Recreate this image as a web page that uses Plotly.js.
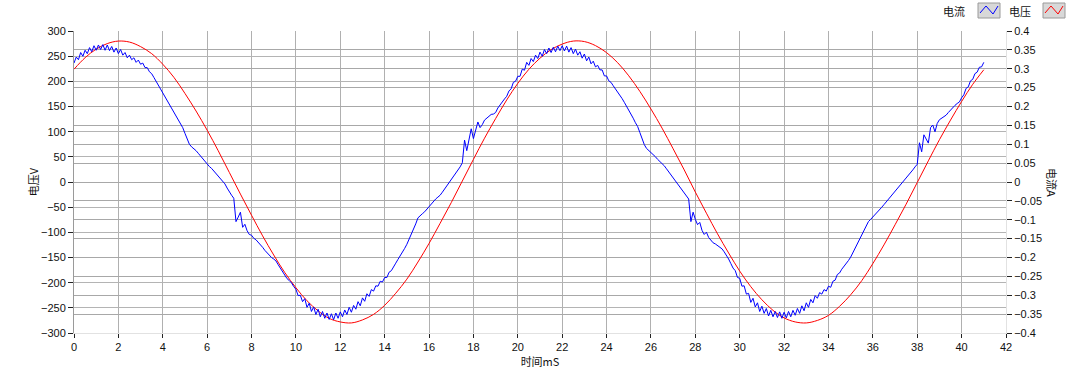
<!DOCTYPE html>
<html>
<head>
<meta charset="utf-8">
<script src="https://cdn.plot.ly/plotly-3.0.1.min.js"></script>
<style>html,body{margin:0;padding:0;background:#fff;}</style>
</head>
<body>
<div id="chart" style="width:1080px;height:371px;"></div>
<script>
// time axis (ms)
const currentStartMs = 0;
const currentStepMs = 0.1;
const voltageStartMs = 0;
const voltageStepMs = 0.5;

// 电压 (V), sampled every 0.5 ms from 0 to 41 ms
const voltageV = [
  224, 247, 264, 275, 280, 278, 269, 255, 234, 208, 176, 141, 103, 62, 19, -24,
  -66, -107, -145, -180, -210, -236, -256, -271, -278, -280, -274, -263, -245, -221,
  -193, -159, -122, -82, -41, 2, 45, 87, 126, 163, 196, 224,
  246, 263, 274, 280, 279, 271, 257, 237, 211, 180, 145, 107, 66, 24, -20,
  -62, -103, -141, -177, -208, -234, -255, -270, -278, -280, -275, -265, -247,
  -224, -196, -162, -125, -85, -44, -1, 42, 84, 123, 160, 194, 223
];

// 电流 (A), sampled every 0.1 ms from 0 to 41 ms
const currentA = [
  0.315,0.331,0.324,0.343,0.333,0.349,0.340,0.356,0.345,0.361,
  0.349,0.363,0.351,0.364,0.349,0.363,0.348,0.359,0.344,0.355,
  0.340,0.351,0.336,0.343,0.329,0.336,0.324,0.329,0.317,0.323,
  0.312,0.315,0.303,0.303,0.292,0.287,0.277,0.267,0.257,0.248,
  0.237,0.228,0.217,0.207,0.196,0.185,0.175,0.164,0.155,0.144,
  0.129,0.113,0.100,0.093,0.089,0.083,0.076,0.069,0.061,0.053,
  0.047,0.041,0.036,0.029,0.023,0.016,0.009,0.001,-0.005,-0.016,
  -0.027,-0.035,-0.043,-0.105,-0.093,-0.080,-0.120,-0.112,-0.129,-0.139,
  -0.141,-0.149,-0.153,-0.159,-0.165,-0.173,-0.181,-0.188,-0.195,-0.200,
  -0.204,-0.209,-0.219,-0.228,-0.239,-0.249,-0.256,-0.261,-0.267,-0.277,
  -0.284,-0.301,-0.300,-0.317,-0.309,-0.332,-0.321,-0.343,-0.331,-0.351,
  -0.337,-0.357,-0.343,-0.361,-0.347,-0.364,-0.349,-0.365,-0.347,-0.361,
  -0.344,-0.357,-0.339,-0.351,-0.332,-0.345,-0.327,-0.337,-0.317,-0.328,
  -0.307,-0.316,-0.296,-0.303,-0.285,-0.289,-0.275,-0.276,-0.263,-0.265,
  -0.253,-0.253,-0.239,-0.235,-0.223,-0.215,-0.205,-0.196,-0.185,-0.176,
  -0.165,-0.152,-0.140,-0.127,-0.111,-0.095,-0.088,-0.084,-0.079,-0.072,
  -0.064,-0.057,-0.052,-0.045,-0.040,-0.035,-0.027,-0.019,-0.011,-0.003,
  0.005,0.013,0.023,0.031,0.040,0.051,0.111,0.083,0.117,0.141,
  0.115,0.140,0.159,0.144,0.152,0.164,0.169,0.175,0.179,0.180,
  0.184,0.196,0.205,0.212,0.220,0.227,0.241,0.247,0.264,0.267,
  0.280,0.280,0.299,0.296,0.317,0.309,0.327,0.319,0.336,0.327,
  0.344,0.333,0.351,0.340,0.355,0.343,0.357,0.345,0.360,0.348,
  0.361,0.347,0.360,0.344,0.356,0.340,0.352,0.336,0.345,0.328,
  0.339,0.321,0.331,0.313,0.320,0.305,0.309,0.297,0.297,0.281,
  0.281,0.268,0.264,0.255,0.247,0.239,0.231,0.221,0.211,0.201,
  0.192,0.181,0.169,0.157,0.147,0.131,0.115,0.099,0.089,0.084,
  0.077,0.072,0.067,0.060,0.055,0.049,0.043,0.035,0.027,0.019,
  0.011,0.003,-0.005,-0.013,-0.020,-0.028,-0.036,-0.045,-0.105,-0.080,
  -0.099,-0.113,-0.107,-0.128,-0.139,-0.133,-0.147,-0.155,-0.161,-0.164,
  -0.168,-0.172,-0.177,-0.185,-0.193,-0.204,-0.216,-0.228,-0.235,-0.253,
  -0.255,-0.276,-0.275,-0.297,-0.295,-0.319,-0.308,-0.331,-0.320,-0.343,
  -0.329,-0.348,-0.335,-0.355,-0.340,-0.357,-0.343,-0.359,-0.344,-0.361,
  -0.345,-0.360,-0.343,-0.357,-0.340,-0.353,-0.335,-0.348,-0.328,-0.341,
  -0.320,-0.332,-0.311,-0.320,-0.301,-0.308,-0.293,-0.297,-0.285,-0.289,
  -0.276,-0.279,-0.263,-0.260,-0.245,-0.241,-0.231,-0.224,-0.216,-0.208,
  -0.199,-0.187,-0.176,-0.164,-0.152,-0.140,-0.128,-0.116,-0.105,-0.099,
  -0.093,-0.087,-0.080,-0.073,-0.067,-0.060,-0.053,-0.047,-0.040,-0.033,
  -0.027,-0.019,-0.012,-0.005,0.001,0.008,0.016,0.024,0.032,0.040,
  0.047,0.104,0.080,0.125,0.115,0.103,0.144,0.151,0.133,0.155,
  0.165,0.169,0.173,0.177,0.184,0.191,0.199,0.203,0.208,0.212,
  0.223,0.231,0.248,0.252,0.268,0.272,0.287,0.291,0.304,0.305,
  0.317
];

// labels
const seriesNames = ['电流', '电压'];
const xTitle = '时间mS';
const yTitleLeft = '电压V';
const yTitleRight = '电流A';

const cjk = '"Noto Sans CJK SC", "Liberation Sans", sans-serif';

const traces = [
  {
    type: 'scatter', mode: 'lines', name: seriesNames[1],
    x0: voltageStartMs, dx: voltageStepMs, y: voltageV,
    yaxis: 'y', line: {color: '#ff0000', width: 1, shape: 'spline'},
    hoverinfo: 'skip'
  },
  {
    type: 'scatter', mode: 'lines', name: seriesNames[0],
    x0: currentStartMs, dx: currentStepMs, y: currentA,
    yaxis: 'y2', line: {color: '#0000ff', width: 1},
    hoverinfo: 'skip'
  }
];

// pixel -> paper helpers for the hand-drawn legend
const PL = 74, PR = 1006, PT = 31, PB = 333;
const px = v => (v - PL) / (PR - PL);
const py = v => (PB - v) / (PB - PT);

function legendIcon(x, color) {
  return [
    {type: 'rect', xref: 'paper', yref: 'paper', x0: px(x), x1: px(x + 22), y0: py(18), y1: py(3),
     fillcolor: '#d8d8d8', line: {color: '#9a9a9a', width: 1}},
    {type: 'path', xref: 'paper', yref: 'paper',
     path: 'M ' + px(x + 2) + ',' + py(13) + ' L ' + px(x + 8) + ',' + py(6) + ' L ' + px(x + 15) + ',' + py(14) + ' L ' + px(x + 20) + ',' + py(6),
     line: {color: color, width: 1}}
  ];
}

const layout = {
  width: 1080, height: 371,
  margin: {l: PL, r: 1080 - PR, t: PT, b: 371 - PB},
  paper_bgcolor: '#ffffff', plot_bgcolor: '#ffffff',
  font: {family: '"Liberation Sans", "Noto Sans CJK SC", sans-serif', size: 11, color: '#111'},
  showlegend: false,
  xaxis: {
    range: [0, 42], tick0: 0, dtick: 2,
    ticks: 'outside', ticklen: 4, tickcolor: '#222', tickwidth: 1,
    showgrid: true, gridcolor: '#b0b0b0', gridwidth: 1,
    zeroline: false, showline: true, linecolor: '#e2e2e2', linewidth: 1,
    title: {text: xTitle, font: {family: cjk, size: 11, color: '#111'}, standoff: 3},
    fixedrange: true
  },
  yaxis: {
    range: [-300, 300], tick0: 0, dtick: 50,
    ticks: 'outside', ticklen: 5, tickcolor: '#222', tickwidth: 1,
    showgrid: true, gridcolor: '#b4b4b4', gridwidth: 1,
    zeroline: false, showline: true, linecolor: '#9a9a9a', linewidth: 1,
    title: {text: yTitleLeft, font: {family: cjk, size: 11, color: '#111'}, standoff: 0},
    fixedrange: true
  },
  yaxis2: {
    overlaying: 'y', side: 'right',
    range: [-0.4, 0.4], tick0: 0, dtick: 0.05,
    ticks: 'outside', ticklen: 5, tickcolor: '#222', tickwidth: 1,
    showgrid: true, gridcolor: '#a8a8a8', gridwidth: 1,
    zeroline: false, showline: true, linecolor: '#e2e2e2', linewidth: 1,
    fixedrange: true
  },
  shapes: [].concat(legendIcon(978, '#0000ff'), legendIcon(1043, '#ff0000')),
  annotations: [
    {xref: 'paper', yref: 'paper', x: px(1052), y: 0.5, text: yTitleRight, showarrow: false,
     textangle: 90, font: {family: cjk, size: 11, color: '#111'}, xanchor: 'center', yanchor: 'middle'},
    {xref: 'paper', yref: 'paper', x: px(954), y: py(11), text: seriesNames[0], showarrow: false,
     font: {family: cjk, size: 11, color: '#111'}, xanchor: 'center', yanchor: 'middle'},
    {xref: 'paper', yref: 'paper', x: px(1020), y: py(11), text: seriesNames[1], showarrow: false,
     font: {family: cjk, size: 11, color: '#111'}, xanchor: 'center', yanchor: 'middle'}
  ]
};

Plotly.newPlot('chart', traces, layout, {staticPlot: true, displayModeBar: false});
</script>
</body>
</html>
